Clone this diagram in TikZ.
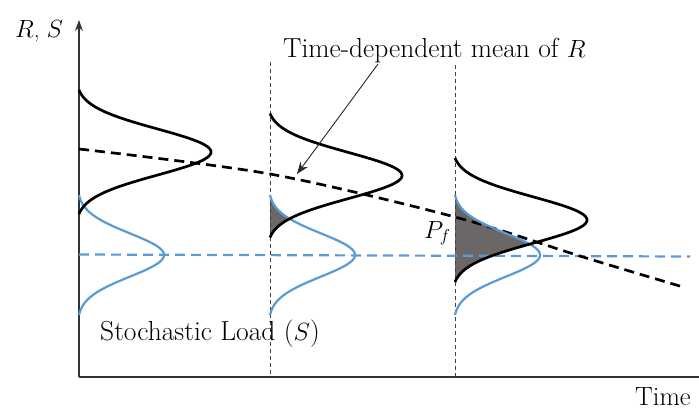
\documentclass[tikz,border=0pt]{standalone}
\usetikzlibrary{arrows.meta}
\definecolor{sblue}{RGB}{91,155,213}
\definecolor{shadegray}{RGB}{107,103,103}
\begin{document}
\begin{tikzpicture}[x=1pt,y=-1pt,
  declare function={gR(\t)=132*(exp(-(\t)^2/1058)-0.0264)/0.9736; gS(\t)=85*(exp(-(\t)^2/940)-0.0217)/0.9783;},
  axisline/.style={line width=1.2pt, black!80},
  guide/.style={line width=0.9pt, black!75, dash pattern=on 4pt off 3pt},
  rcurve/.style={line width=2.7pt, black, line join=round},
  scurve/.style={line width=2.2pt, sblue},
  meanline/.style={line width=2.7pt, black, dash pattern=on 10pt off 6pt},
  loadline/.style={line width=2.2pt, sblue, dash pattern=on 10pt off 6pt},
  overlap/.style={fill=shadegray},
  pointer/.style={line width=0.9pt, black!85, -{Stealth[length=12pt,width=9pt]}},
  lbl/.style={inner sep=0pt, font=\fontsize{27.5}{32}\selectfont}]
\useasboundingbox (0,0) rectangle (699,410);

% overlap (failure probability) regions
\fill[overlap] (270,195) -- plot[domain=195:237.5, samples=80] ({270+max(0,min(gR(\x-175.5),gS(\x-255)))}, \x) -- cycle;
\fill[overlap] (455,195) -- plot[domain=195:282, samples=120] ({455+max(0,min(gR(\x-220),gS(\x-255)))}, \x) -- cycle;

% axes
\coordinate (origin) at (79,377);
\coordinate (ytop) at (79,20);
\coordinate (xend) at (699,377);
\draw[axisline, -{Stealth[length=11pt,width=8pt]}] (origin) -- (ytop);
\draw[axisline] (origin) -- (xend);

% time guides
\coordinate (g1top) at (270,62);
\coordinate (g1bot) at (270,377);
\coordinate (g2top) at (455,65);
\coordinate (g2bot) at (455,377);
\draw[guide] (g1top) -- (g1bot);
\draw[guide] (g2top) -- (g2bot);

% load mean
\coordinate (ls) at (79,254.5);
\coordinate (le) at (690,256.5);
\draw[loadline] (ls) -- (le);

% resistance mean (time-dependent)
\draw[meanline] plot[smooth] coordinates {(79,149) (270,174) (455,217) (583,257) (683,287)};

% load distributions
\foreach \b in {79,270,455}
  \draw[scurve] plot[domain=-60:60, samples=121] ({\b+gS(\x)}, {255+\x});

% resistance distributions
\draw[rcurve] plot[domain=-62:62, samples=121] ({79+gR(\x)}, {152+\x});
\draw[rcurve] plot[domain=-62:62, samples=121] ({270+gR(\x)}, {175.5+\x});
\draw[rcurve] plot[domain=-62:62, samples=121] ({455+gR(\x)}, {220+\x});

% labels
\node[lbl, anchor=base west, font=\fontsize{23}{27}\selectfont] (ylab) at (15,37) {$R$, $S$};
\node[lbl, anchor=base west, font=\fontsize{26.5}{30}\selectfont] (xlab) at (635,405) {Time};
\node[lbl, anchor=base west] (title) at (283,57) {Time-dependent mean of $R$};
\node[lbl, anchor=base west] (load) at (100,340) {Stochastic Load ($S$)};
\node[lbl, anchor=base west, font=\fontsize{23}{27}\selectfont] (pf) at (424,238) {$P_f$};

\coordinate (arrowstart) at (378,64);
\coordinate (tip) at (297,174);
\draw[pointer] (arrowstart) -- (tip);
\end{tikzpicture}
\end{document}
